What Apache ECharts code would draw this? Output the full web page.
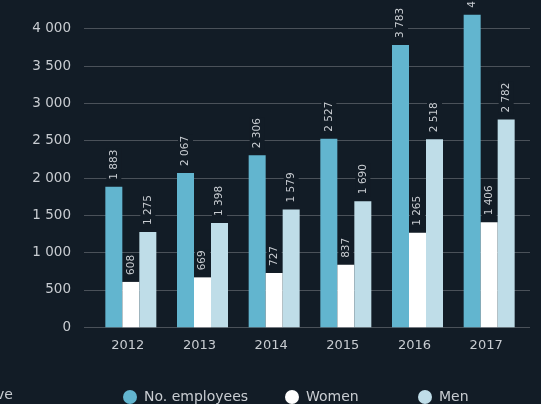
<!DOCTYPE html>
<html>
<head>
<meta charset="utf-8">
<script src="https://cdn.jsdelivr.net/npm/echarts@6/dist/echarts.min.js"></script>
<style>
html,body{margin:0;padding:0;background:#121c26;}
#chart{width:541px;height:404px;}
</style>
</head>
<body>
<div id="chart"></div>
<script>
var years = ['2012', '2013', '2014', '2015', '2016', '2017'];
var employees = [1883, 2067, 2306, 2527, 3783, 4188];
var women = [608, 669, 727, 837, 1265, 1406];
var men = [1275, 1398, 1579, 1690, 2518, 2782];
var seriesNames = ['No. employees', 'Women', 'Men'];
var yTicks = { min: 0, max: 4000, interval: 500 };

var FONT = 'DejaVu Sans';
var TXT = '#c8ccd1';
var colors = ['#62b5cf', '#ffffff', '#bfdde8'];

function fmt(v) {
  var s = String(v);
  return s.replace(/\B(?=(\d{3})+(?!\d))/g, ' ');
}

var chart = echarts.init(document.getElementById('chart'), null, { renderer: 'canvas' });

function barSeries(name, data, color) {
  return {
    name: name,
    type: 'bar',
    xAxisIndex: 1,
    yAxisIndex: 1,
    data: data,
    barWidth: 17,
    barGap: '0%',
    clip: false,
    itemStyle: { color: color },
    label: {
      show: true,
      position: 'top',
      distance: 5,
      rotate: 90,
      align: 'left',
      verticalAlign: 'middle',
      color: TXT,
      fontFamily: FONT,
      fontSize: 10.5,
      backgroundColor: '#121c26',
      padding: [2, 1, 2, 2],
      formatter: function (p) { return fmt(p.value); }
    }
  };
}

var legendText = { color: TXT, fontFamily: FONT, fontSize: 14, padding: [0, 0, 0, 2] };

var option = {
  backgroundColor: '#121c26',
  animation: false,
  grid: [
    { left: 84, right: 11, top: 28.7, bottom: 76.7 },
    { left: 95, right: 16, top: 28.7, bottom: 76.7 }
  ],
  xAxis: [
    { type: 'category', gridIndex: 0, data: years, show: false },
    {
      type: 'category', gridIndex: 1, data: years,
      axisLine: { show: false }, axisTick: { show: false },
      axisLabel: { color: TXT, fontFamily: FONT, fontSize: 13, margin: 12, padding: [0, 6, 0, 0] }
    }
  ],
  yAxis: [
    {
      type: 'value', gridIndex: 0, min: yTicks.min, max: yTicks.max, interval: yTicks.interval,
      axisLine: { show: false }, axisTick: { show: false },
      splitLine: { lineStyle: { color: '#4a5159', width: 1 } },
      axisLabel: { color: TXT, fontFamily: FONT, fontSize: 13.5, margin: 13, formatter: fmt }
    },
    {
      type: 'value', gridIndex: 1, min: yTicks.min, max: yTicks.max, interval: yTicks.interval,
      show: false, splitLine: { show: false }
    }
  ],
  legend: [
    { data: [seriesNames[0]], left: 118, top: 385, icon: 'circle', itemWidth: 14, itemHeight: 14, selectedMode: false, textStyle: legendText },
    { data: [seriesNames[1]], left: 280, top: 385, icon: 'circle', itemWidth: 14, itemHeight: 14, selectedMode: false, textStyle: legendText },
    { data: [seriesNames[2]], left: 413, top: 385, icon: 'circle', itemWidth: 14, itemHeight: 14, selectedMode: false, textStyle: legendText }
  ],
  graphic: [
    { type: 'text', left: -4, top: 388, style: { text: 've', fill: TXT, font: '14px "DejaVu Sans"' } }
  ],
  series: [
    barSeries(seriesNames[0], employees, colors[0]),
    barSeries(seriesNames[1], women, colors[1]),
    barSeries(seriesNames[2], men, colors[2])
  ]
};
chart.setOption(option);
</script>
</body>
</html>
